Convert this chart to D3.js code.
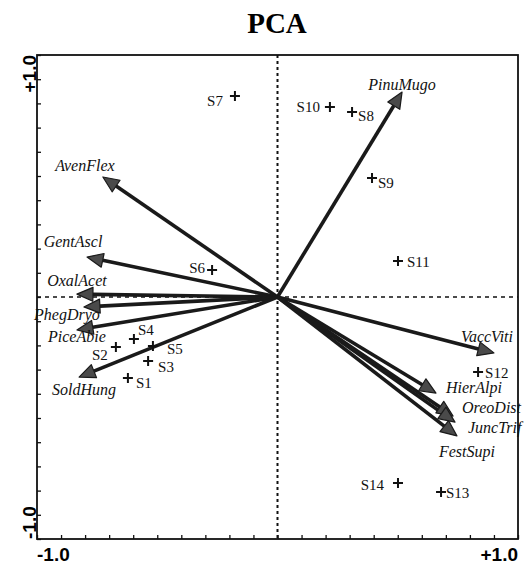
<!doctype html>
<html>
<head>
<meta charset="utf-8">
<title>PCA</title>
<script src="https://cdn.jsdelivr.net/npm/d3@7"></script>
<style>
  body { margin: 0; background: #fff; }
  svg { display: block; }
</style>
</head>
<body>
<svg width="529" height="564"></svg>
<script>
// species vectors (arrow tips)
var species = ["PinuMugo", "AvenFlex", "GentAscl", "OxalAcet", "PhegDryo", "PiceAbie", "SoldHung",
               "VaccViti", "HierAlpi", "OreoDist", "JuncTrif", "FestSupi"];
var speciesX = [0.518, -0.726, -0.792, -0.834, -0.805, -0.834, -0.825, 0.900, 0.659, 0.730, 0.738, 0.746];
var speciesY = [0.847, 0.496, 0.165, 0.012, -0.041, -0.136, -0.331, -0.231, -0.397, -0.492, -0.517, -0.574];

// sample scores
var sites = ["S1", "S2", "S3", "S4", "S5", "S6", "S7", "S8", "S9", "S10", "S11", "S12", "S13", "S14"];
var siteX = [-0.622, -0.672, -0.538, -0.597, -0.518, -0.272, -0.177, 0.310, 0.393, 0.218, 0.501, 0.834, 0.680, 0.501];
var siteY = [-0.335, -0.207, -0.264, -0.174, -0.202, 0.112, 0.831, 0.764, 0.492, 0.785, 0.149, -0.310, -0.806, -0.769];

var axisLabels = ["-1.0", "+1.0"];

// label placement (pixels from the mark) - layout only
var speciesLabelPos = {
  PinuMugo: [0, -2, "middle"], AvenFlex: [-18, -6, "middle"], GentAscl: [-14, -10, "middle"],
  OxalAcet: [0, -8, "middle"], PhegDryo: [-17, 13, "middle"], PiceAbie: [0, 12, "middle"],
  SoldHung: [5, 18, "middle"], VaccViti: [-7, -11, "middle"], HierAlpi: [10, 0, "start"],
  OreoDist: [9, -3, "start"], JuncTrif: [13, 11, "start"], FestSupi: [10, 21, "middle"]
};
var siteLabelPos = {
  S1: [8, 10, "start"], S2: [-8, 13, "end"], S3: [10, 11, "start"], S4: [4, -4, "start"],
  S5: [14, 8, "start"], S6: [-7, 3, "end"], S7: [-12, 10, "end"], S8: [6, 9, "start"],
  S9: [6, 10, "start"], S10: [-10, 5, "end"], S11: [9, 6, "start"], S12: [7, 6, "start"],
  S13: [5, 6, "start"], S14: [-14, 7, "end"]
};

var svg = d3.select("svg");
var x = d3.scaleLinear().domain([-1, 1]).range([37, 518]);
var y = d3.scaleLinear().domain([-1, 1]).range([539, 55]);

// title
svg.append("text")
  .attr("x", 277).attr("y", 33)
  .attr("text-anchor", "middle")
  .attr("font-family", "Liberation Serif, Times New Roman, serif")
  .attr("font-weight", "bold")
  .attr("font-size", 29)
  .text("PCA");

// dashed zero lines
svg.append("line")
  .attr("x1", x(0)).attr("x2", x(0)).attr("y1", y(1)).attr("y2", y(-1))
  .attr("stroke", "#111").attr("stroke-width", 2).attr("stroke-dasharray", "3,3");
svg.append("line")
  .attr("x1", x(-1)).attr("x2", x(1)).attr("y1", y(0)).attr("y2", y(0))
  .attr("stroke", "#111").attr("stroke-width", 1.6).attr("stroke-dasharray", "4,4");

// ticks (inward) on left and bottom
var tickVals = d3.range(-1, 1.001, 0.1);
svg.append("g")
  .attr("transform", "translate(" + x(-1) + ",0)")
  .call(d3.axisRight(y).tickValues(tickVals).tickSize(4).tickFormat(""))
  .call(function (g) { g.select(".domain").remove(); g.selectAll("line").attr("stroke", "#111").attr("stroke-width", 1.3); });
svg.append("g")
  .attr("transform", "translate(0," + y(-1) + ")")
  .call(d3.axisTop(x).tickValues(tickVals).tickSize(4).tickFormat(""))
  .call(function (g) { g.select(".domain").remove(); g.selectAll("line").attr("stroke", "#111").attr("stroke-width", 1.3); });

// frame
svg.append("rect")
  .attr("x", x(-1)).attr("y", y(1))
  .attr("width", x(1) - x(-1)).attr("height", y(-1) - y(1))
  .attr("fill", "none").attr("stroke", "#111").attr("stroke-width", 1.8);

// axis end labels
var sans = "Liberation Sans, Arial, Helvetica, sans-serif";
svg.append("text").attr("x", x(-1)).attr("y", 561)
  .attr("font-family", sans).attr("font-weight", "bold").attr("font-size", 19)
  .attr("text-anchor", "start").text(axisLabels[0]);
svg.append("text").attr("x", x(1)).attr("y", 561)
  .attr("font-family", sans).attr("font-weight", "bold").attr("font-size", 19)
  .attr("text-anchor", "end").text(axisLabels[1]);
svg.append("text")
  .attr("transform", "translate(36," + y(1) + ") rotate(-90)")
  .attr("font-family", sans).attr("font-weight", "bold").attr("font-size", 19)
  .attr("text-anchor", "end").text(axisLabels[1]);
svg.append("text")
  .attr("transform", "translate(36," + y(-1) + ") rotate(-90)")
  .attr("font-family", sans).attr("font-weight", "bold").attr("font-size", 19)
  .attr("text-anchor", "start").text(axisLabels[0]);

// arrows
var headLen = 16, headW = 7;
var arrowData = species.map(function (s, i) {
  var x0 = x(0), y0 = y(0), x1 = x(speciesX[i]), y1 = y(speciesY[i]);
  var dx = x1 - x0, dy = y1 - y0, len = Math.sqrt(dx * dx + dy * dy);
  var ux = dx / len, uy = dy / len;
  var bx = x1 - ux * headLen, by = y1 - uy * headLen;
  return {
    name: s, x0: x0, y0: y0, x1: x1, y1: y1, bx: bx, by: by,
    head: [[x1, y1], [bx - uy * headW, by + ux * headW], [bx + uy * headW, by - ux * headW]]
  };
});

var arrows = svg.append("g");
arrows.selectAll("line")
  .data(arrowData).enter().append("line")
  .attr("x1", function (d) { return d.x0; })
  .attr("y1", function (d) { return d.y0; })
  .attr("x2", function (d) { return d.bx; })
  .attr("y2", function (d) { return d.by; })
  .attr("stroke", "#1a1a1a").attr("stroke-width", 3.6);
arrows.selectAll("polygon")
  .data(arrowData).enter().append("polygon")
  .attr("points", function (d) { return d.head.map(function (p) { return p.join(","); }).join(" "); })
  .attr("fill", "#4a4a4a").attr("stroke", "#1a1a1a").attr("stroke-width", 1.2)
  .attr("stroke-linejoin", "round");

var serif = "Liberation Serif, Times New Roman, serif";
svg.append("g").selectAll("text")
  .data(species).enter().append("text")
  .attr("x", function (d, i) { return x(speciesX[i]) + speciesLabelPos[d][0]; })
  .attr("y", function (d, i) { return y(speciesY[i]) + speciesLabelPos[d][1]; })
  .attr("text-anchor", function (d) { return speciesLabelPos[d][2]; })
  .attr("font-family", serif).attr("font-style", "italic").attr("font-size", 16)
  .attr("fill", "#111")
  .text(function (d) { return d; });

// sites as crosses
var siteG = svg.append("g");
siteG.selectAll("path")
  .data(sites).enter().append("path")
  .attr("d", function (d, i) {
    var cx = x(siteX[i]), cy = y(siteY[i]);
    return "M" + (cx - 5) + "," + cy + "H" + (cx + 5) + "M" + cx + "," + (cy - 5) + "V" + (cy + 5);
  })
  .attr("stroke", "#111").attr("stroke-width", 2).attr("fill", "none");
siteG.selectAll("text")
  .data(sites).enter().append("text")
  .attr("x", function (d, i) { return x(siteX[i]) + siteLabelPos[d][0]; })
  .attr("y", function (d, i) { return y(siteY[i]) + siteLabelPos[d][1]; })
  .attr("text-anchor", function (d) { return siteLabelPos[d][2]; })
  .attr("font-family", serif).attr("font-size", 15)
  .attr("fill", "#111")
  .text(function (d) { return d; });
</script>
</body>
</html>
